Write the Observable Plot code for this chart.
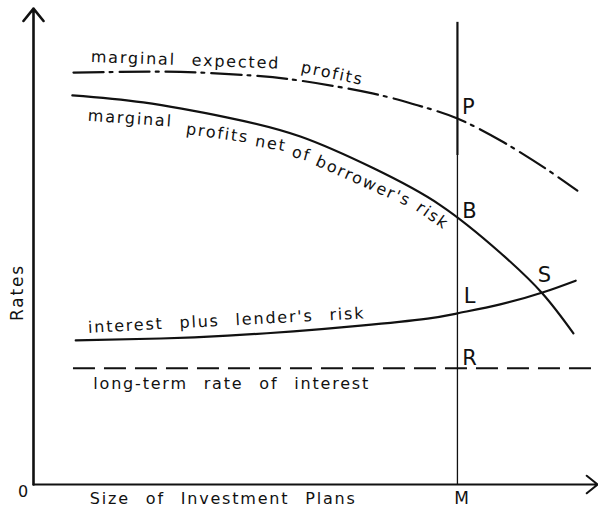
<!DOCTYPE html>
<html><head><meta charset="utf-8">
<script src="https://cdn.jsdelivr.net/npm/d3@7"></script>
<script src="https://cdn.jsdelivr.net/npm/@observablehq/plot@0.6"></script>
<style>
body{margin:0;background:#fff}
#chart svg text{letter-spacing:1.8px;word-spacing:9px}
</style>
</head><body><div id="chart"></div>
<script>
// Curves (x = size of investment plans, y = rates), abstract units 0–100
const expectedSize = [7.1, 20.8, 29.7, 38.5, 47.4, 60.2, 68.2, 75.3, 83.5, 90.9, 96.6];
const expectedRate = [86.9, 87.1, 86.9, 86.3, 85.2, 82.5, 80.0, 77.2, 72.2, 66.7, 62.0];
const netSize = [6.9, 19.5, 34.5, 47.4, 60.4, 72.3, 82.9, 90.4, 95.9];
const netRate = [82.1, 80.6, 77.4, 73.4, 66.7, 58.9, 48.9, 40.3, 31.9];
const lenderSize = [7.5, 22.6, 34.5, 46.2, 58.1, 70.0, 75.3, 82.9, 90.4, 96.3];
const lenderRate = [30.4, 30.8, 31.4, 32.3, 33.5, 35.0, 36.1, 38.0, 40.5, 43.0];
const longTermRate = 24.5;
const longTermFrom = 7.1, longTermTo = 100;
const M = 75.3;
const mTop = 97.5, mSplit = 69.4;
const yArrowTop = 100.4, xArrowEnd = 100.2;

// Curve labels
const curveLabels = ["marginal expected", "profits", "marginal", "profits", "net", "of", "borrower's", "risk",
  "interest plus lender's risk", "long-term rate of interest"];
const curveLabelSize = [27.0, 53.1, 17.2, 32.7, 42.2, 47.6, 58.6, 70.9, 34.3, 35.2];
const curveLabelRate = [89.5, 86.7, 77.2, 74.1, 71.9, 69.7, 64.0, 56.7, 34.6, 21.3];
const curveLabelAngle = [2, 12, 4, 8, 10, 15, 24, 35, -3, 0];

// Point letters
const pointLetters = ["P", "B", "L", "R", "S"];
const pointSize = [77.4, 77.6, 77.6, 77.6, 90.9];
const pointRate = [79.5, 57.6, 39.7, 26.6, 44.1];

// Axis texts
const xTitle = "Size of Investment Plans";
const yTitle = "Rates";
const originLabel = "0";
const mLabel = "M";

const idx = n => d3.range(n);
const ink = "#111";

const chart = Plot.plot({
  width: 598, height: 511,
  marginLeft: 33, marginRight: 2, marginTop: 10, marginBottom: 27,
  x: {domain: [0, 100], axis: null},
  y: {domain: [0, 100], axis: null},
  style: {fontFamily: "DejaVu Sans", color: ink, background: "#fff", overflow: "visible"},
  marks: [
    // axes with arrowheads
    Plot.arrow([0], {x1: () => 0, y1: () => 0, x2: () => 0, y2: () => yArrowTop,
      stroke: ink, strokeWidth: 2.6, headLength: 9.2, headAngle: 78}),
    Plot.arrow([0], {x1: () => 0, y1: () => 0, x2: () => xArrowEnd, y2: () => 0,
      stroke: ink, strokeWidth: 2, headLength: 10.5, headAngle: 78}),
    // vertical line at M
    Plot.ruleX([M], {y1: mSplit, y2: mTop, stroke: ink, strokeWidth: 2.2}),
    Plot.ruleX([M], {y1: 0, y2: mSplit, stroke: ink, strokeWidth: 1.3}),
    // long-term rate of interest
    Plot.ruleY([longTermRate], {x1: longTermFrom, x2: longTermTo, stroke: ink, strokeWidth: 2, strokeDasharray: "22,9"}),
    // marginal expected profits (dash-dot)
    Plot.line(idx(expectedSize.length), {x: i => expectedSize[i], y: i => expectedRate[i],
      curve: "natural", stroke: ink, strokeWidth: 2.2, strokeDasharray: "30,6,3,7"}),
    // marginal profits net of borrower's risk
    Plot.line(idx(netSize.length), {x: i => netSize[i], y: i => netRate[i],
      curve: "natural", stroke: ink, strokeWidth: 2.2}),
    // interest plus lender's risk
    Plot.line(idx(lenderSize.length), {x: i => lenderSize[i], y: i => lenderRate[i],
      curve: "natural", stroke: ink, strokeWidth: 2.2}),
    // curve labels
    Plot.text(curveLabels, {x: (d, i) => curveLabelSize[i], y: (d, i) => curveLabelRate[i],
      rotate: (d, i) => curveLabelAngle[i], text: d => d, fontSize: 16, fill: ink}),
    // point letters
    Plot.text(pointLetters, {x: (d, i) => pointSize[i], y: (d, i) => pointRate[i], text: d => d,
      fontSize: 21, fill: ink}),
    // axis texts
    Plot.text([xTitle], {x: () => 33.7, y: () => -3.0, text: d => d, fontSize: 16, fill: ink}),
    Plot.text([yTitle], {x: () => -2.8, y: () => 40.5, text: d => d, rotate: -90, fontSize: 17, fill: ink}),
    Plot.text([originLabel], {x: () => -1.7, y: () => -1.5, text: d => d, fontSize: 16, fill: ink}),
    Plot.text([mLabel], {x: () => M + 0.9, y: () => -3.0, text: d => d, fontSize: 17, fill: ink})
  ]
});
document.getElementById("chart").append(chart);
</script>
</body></html>
